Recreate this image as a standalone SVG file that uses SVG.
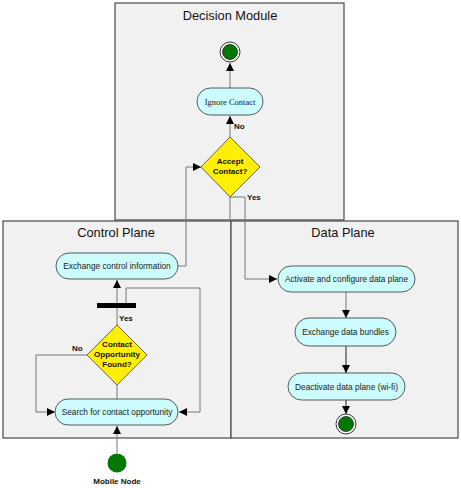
<svg xmlns="http://www.w3.org/2000/svg" width="461" height="488" viewBox="0 0 461 488">
<defs>
<style>
.lane{fill:#f1f1f1;stroke:#4a4a4a;stroke-width:1.2}
.title{font-family:"Liberation Sans",Arial,sans-serif;font-size:12.8px;fill:#111;text-anchor:middle}
.act{fill:#ccfcfc;stroke:#333;stroke-width:0.8}
.at{font-family:"Liberation Sans",Arial,sans-serif;font-size:8.3px;fill:#222;text-anchor:middle}
.dia{fill:#ffef00;stroke:#444;stroke-width:0.8}
.dt{font-family:"Liberation Sans",Arial,sans-serif;font-size:8px;font-weight:bold;fill:#111;text-anchor:middle}
.lbl{font-family:"Liberation Sans",Arial,sans-serif;font-size:8px;font-weight:bold;fill:#111}
.ln{fill:none;stroke:#777;stroke-width:1}
.lnd{fill:none;stroke:#222;stroke-width:1}
</style>
<marker id="ah" viewBox="0 0 10 10" refX="10" refY="5" markerWidth="8" markerHeight="8" markerUnits="userSpaceOnUse" orient="auto">
<path d="M0,0 L10,5 L0,10 z" fill="#000"/>
</marker>
</defs>

<g id="lane-decision">
<rect class="lane" x="115" y="3" width="229" height="217"/>
<text class="title" x="230" y="20">Decision Module</text>
</g>
<g id="lane-control">
<rect class="lane" x="3" y="221" width="228" height="217"/>
<text class="title" x="116" y="237">Control Plane</text>
</g>
<g id="lane-data">
<rect class="lane" x="231" y="221" width="227" height="217"/>
<text class="title" x="343" y="237">Data Plane</text>
</g>

<g id="connectors">
<line class="ln" x1="230" y1="88" x2="230" y2="63" marker-end="url(#ah)"/>
<line class="ln" x1="230" y1="137" x2="230" y2="116" marker-end="url(#ah)"/>
<polyline class="ln" points="178,266 186,266 186,167 201,167" marker-end="url(#ah)"/>
<line class="ln" x1="230" y1="197" x2="230" y2="221"/>
<polyline class="ln" points="230,197 245,197 245,279 277,279" marker-end="url(#ah)"/>
<line class="ln" x1="346" y1="292" x2="346" y2="318" marker-end="url(#ah)"/>
<line class="lnd" x1="346" y1="346" x2="346" y2="373" marker-end="url(#ah)"/>
<line class="lnd" x1="346" y1="400" x2="346" y2="414" marker-end="url(#ah)"/>
<line class="ln" x1="117" y1="303" x2="117" y2="280" marker-end="url(#ah)"/>
<polyline class="ln" points="126,303 126,288 200,288 200,412 179,412" marker-end="url(#ah)"/>
<line class="ln" x1="117" y1="325" x2="117" y2="308"/>
<polyline class="ln" points="87,355 36,355 36,412 55,412" marker-end="url(#ah)"/>
<line class="ln" x1="117" y1="385" x2="117" y2="399"/>
<line class="ln" x1="117" y1="453" x2="117" y2="426" marker-end="url(#ah)"/>
</g>

<g id="final-decision">
<circle cx="230" cy="52" r="10" fill="#fff" stroke="#333" stroke-width="1"/>
<circle cx="230" cy="52" r="7.5" fill="#007800" stroke="#222" stroke-width="0.8"/>
</g>
<g id="ignore-contact">
<rect class="act" x="197" y="88" width="66" height="27" rx="13.5"/>
<text x="230" y="104.5" font-family="'Liberation Serif','Times New Roman',serif" font-size="8.5" fill="#222" text-anchor="middle">Ignore Contact</text>
</g>
<g id="accept-contact">
<polygon class="dia" points="230,137 260,167 230,197 201,167"/>
<text class="dt" x="230" y="164">Accept</text>
<text class="dt" x="230" y="174">Contact?</text>
<text class="lbl" x="234" y="129">No</text>
<text class="lbl" x="247" y="200">Yes</text>
</g>

<g id="exchange-control">
<rect class="act" x="56" y="253" width="122" height="26" rx="13"/>
<text class="at" x="117" y="269">Exchange control information</text>
</g>
<g id="fork-bar">
<rect x="97" y="303" width="39" height="5" fill="#000"/>
<text class="lbl" x="119" y="321">Yes</text>
</g>
<g id="contact-opportunity">
<polygon class="dia" points="117,325 147,355 117,385 87,355"/>
<text class="dt" x="117" y="347">Contact</text>
<text class="dt" x="117" y="357">Opportunity</text>
<text class="dt" x="117" y="367">Found?</text>
<text class="lbl" x="72" y="351">No</text>
</g>
<g id="search-contact">
<rect class="act" x="55" y="399" width="123" height="26" rx="13"/>
<text class="at" x="117" y="415">Search for contact opportunity</text>
</g>
<g id="mobile-node">
<circle cx="117" cy="463" r="9.5" fill="#007800"/>
<text class="dt" x="117" y="484">Mobile Node</text>
</g>

<g id="activate-data">
<rect class="act" x="278" y="266" width="137" height="26" rx="13"/>
<text class="at" x="346.5" y="282">Activate and configure data plane</text>
</g>
<g id="exchange-data">
<rect class="act" x="295" y="318" width="101" height="28" rx="14"/>
<text class="at" x="345.5" y="335">Exchange data bundles</text>
</g>
<g id="deactivate-data">
<rect class="act" x="288" y="373" width="117" height="27" rx="13.5"/>
<text class="at" x="346.5" y="389.5">Deactivate data plane (wi-fi)</text>
</g>
<g id="final-data">
<circle cx="346" cy="424" r="10" fill="#fff" stroke="#333" stroke-width="1"/>
<circle cx="346" cy="424" r="7.5" fill="#007800" stroke="#222" stroke-width="0.8"/>
</g>
</svg>
